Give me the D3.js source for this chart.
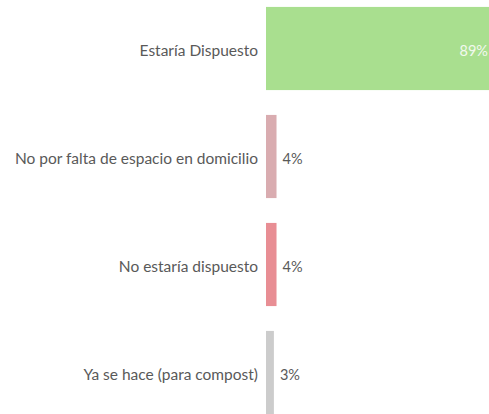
<!DOCTYPE html>
<html>
<head>
<meta charset="utf-8">
<script src="https://cdn.jsdelivr.net/npm/d3@7/dist/d3.min.js"></script>
<style>
  html, body { margin: 0; padding: 0; background: #ffffff; }
  svg { display: block; }
  text { font-family: Lato, "Open Sans", sans-serif; }
</style>
</head>
<body>
<svg id="chart" width="489" height="414"></svg>
<script>
// Survey answers and their shares (percent)
const categories = [
  "Estaría Dispuesto",
  "No por falta de espacio en domicilio",
  "No estaría dispuesto",
  "Ya se hace (para compost)"
];
const values = [89, 4, 4, 3];
const colors = ["#a9df8f", "#d9acb0", "#e88e94", "#cccccc"];

const width = 489, height = 414;
const svg = d3.select("#chart");

const x = d3.scaleLinear().domain([0, 89]).range([266, 500]);
const y = d3.scaleBand()
  .domain(categories)
  .range([-5.5, 426.5])
  .paddingInner(0.23)
  .paddingOuter(0.115);

const rows = svg.selectAll("g.row")
  .data(categories.map((c, i) => ({ c, v: values[i], col: colors[i] })))
  .join("g")
  .attr("class", "row");

rows.append("rect")
  .attr("x", x(0))
  .attr("y", d => y(d.c))
  .attr("width", d => x(d.v) - x(0))
  .attr("height", y.bandwidth())
  .attr("fill", d => d.col);

// Category labels on the left of the bars
rows.append("text")
  .attr("x", x(0) - 8)
  .attr("y", d => y(d.c) + y.bandwidth() / 2 + 2)
  .attr("dy", "0.35em")
  .attr("text-anchor", "end")
  .attr("font-size", 15.5)
  .attr("fill", "#595959")
  .text(d => d.c);

// Value labels: inside the bar when it is wide, otherwise just past its end
const wide = d => x(d.v) - x(0) > 60;
rows.append("text")
  .attr("x", d => wide(d) ? Math.min(x(d.v) - 6, width - 1) : x(d.v) + 6)
  .attr("y", d => y(d.c) + y.bandwidth() / 2 + 2)
  .attr("dy", "0.35em")
  .attr("text-anchor", d => wide(d) ? "end" : "start")
  .attr("font-size", 14.5)
  .attr("fill", d => wide(d) ? "#f2f9ee" : "#595959")
  .text(d => d.v + "%");
</script>
</body>
</html>
